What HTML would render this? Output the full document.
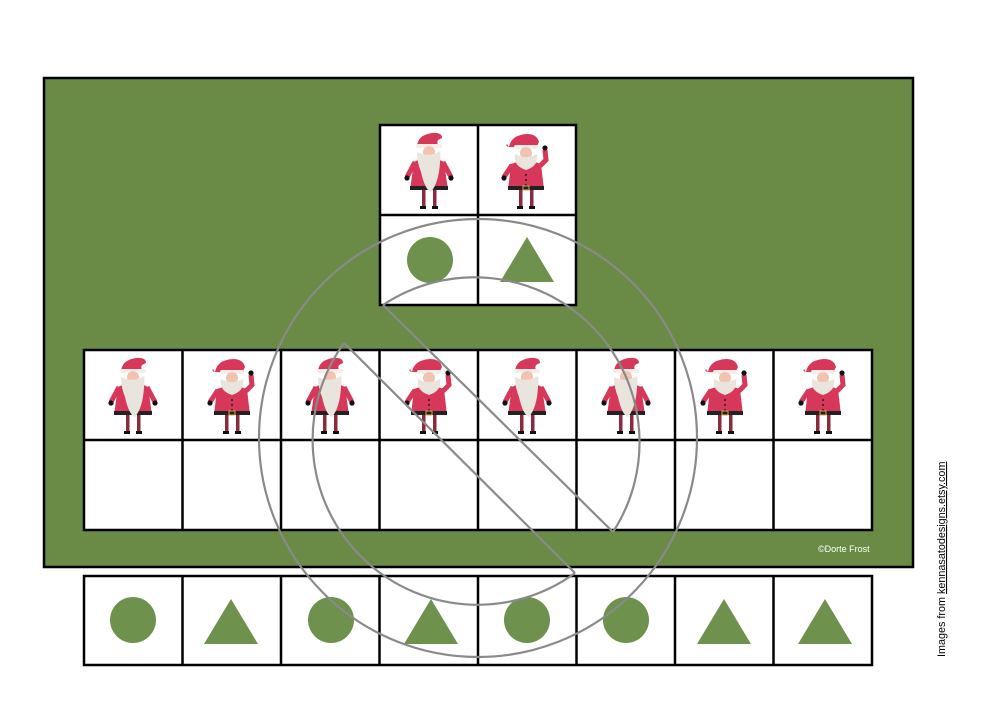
<!DOCTYPE html>
<html><head><meta charset="utf-8"><style>
html,body{margin:0;padding:0;background:#fff;}
body{width:1000px;height:707px;position:relative;overflow:hidden;font-family:"Liberation Sans",sans-serif;}
</style></head><body>
<svg width="1000" height="707" viewBox="0 0 1000 707" xmlns="http://www.w3.org/2000/svg">
<defs>
<g id="sa">
  <path d="M14,14 Q15,3 29,1 Q39,0 39,6 L35,8 Q33,12 37,14 Z" fill="#d7385a"/>
  <rect x="13" y="12" width="26" height="4" rx="2" fill="#f3eee8"/>
  <circle cx="26" cy="20" r="6" fill="#f2c3b0"/>
  <path d="M11,30 Q26,22 41,30 L45,58 L7,58 Z" fill="#d7385a"/>
  <path d="M12,30 L4,45" stroke="#d7385a" stroke-width="5"/>
  <path d="M40,30 L48,45" stroke="#d7385a" stroke-width="5"/>
  <circle cx="4" cy="46" r="2.6" fill="#111"/><circle cx="48" cy="46" r="2.6" fill="#111"/>
  <rect x="7" y="54" width="38" height="4" fill="#222"/>
  <path d="M14,20 Q14,30 18,40 Q22,58 28,60 Q36,50 37,30 Q38,21 37,19 Q26,26 14,20 Z" fill="#e9e5dc"/>
  <rect x="19" y="58" width="3.5" height="17" fill="#8a2a3c"/><rect x="30" y="58" width="3.5" height="17" fill="#8a2a3c"/>
  <rect x="17" y="74" width="6" height="3" fill="#111"/><rect x="29" y="74" width="6" height="3" fill="#111"/>
</g>
<g id="sb">
  <path d="M10,15 Q12,3 28,2 Q38,2 40,10 L37,16 Z M10,15 Q6,14 8,12" fill="#d7385a"/>
  <rect x="15" y="13" width="24" height="4" rx="2" fill="#f3eee8"/>
  <circle cx="27" cy="21" r="6" fill="#f2c3b0"/>
  <path d="M12,32 Q27,26 42,32 L45,58 L9,58 Z" fill="#d7385a"/>
  <path d="M13,33 L5,45" stroke="#d7385a" stroke-width="5"/>
  <path d="M41,34 L47,28 L46,18" stroke="#d7385a" stroke-width="5" fill="none"/>
  <circle cx="5" cy="46" r="2.6" fill="#111"/><circle cx="46" cy="16" r="2.6" fill="#111"/>
  <path d="M16,22 Q14,34 27,38 Q40,34 38,22 Q27,28 16,22 Z" fill="#e9e5dc"/>
  <circle cx="27" cy="43" r="1" fill="#222"/><circle cx="27" cy="48" r="1" fill="#222"/><circle cx="27" cy="53" r="1" fill="#222"/>
  <rect x="9" y="54" width="36" height="4" fill="#222"/>
  <rect x="24" y="54" width="6" height="4" fill="none" stroke="#d9a54a" stroke-width="1"/>
  <rect x="20" y="58" width="3.5" height="17" fill="#8a2a3c"/><rect x="31" y="58" width="3.5" height="17" fill="#8a2a3c"/>
  <rect x="18" y="74" width="6" height="3" fill="#111"/><rect x="30" y="74" width="6" height="3" fill="#111"/>
</g>
<circle id="ci" r="23" fill="#6e914e"/>
<polygon id="tr" points="0,-24 27,21 -27,21" fill="#6e914e"/>
</defs>

<rect x="44" y="78" width="869" height="489" fill="#6a8b45" stroke="#000" stroke-width="2.5"/>

<g stroke="#000" stroke-width="2.5" fill="#fff">
  <rect x="380" y="125" width="196" height="180"/>
  <line x1="478" y1="125" x2="478" y2="305"/>
  <line x1="380" y1="215" x2="576" y2="215"/>
</g>
<use href="#sa" x="403" y="132"/>
<use href="#sb" x="499" y="132"/>
<use href="#ci" x="430" y="260"/>
<use href="#tr" x="527" y="261"/>

<g stroke="#000" stroke-width="2.5" fill="#fff">
  <rect x="84" y="350" width="788" height="180"/>
  <line x1="84" y1="440" x2="872" y2="440"/>
  <line x1="182.5" y1="350" x2="182.5" y2="530"/>
  <line x1="281" y1="350" x2="281" y2="530"/>
  <line x1="379.5" y1="350" x2="379.5" y2="530"/>
  <line x1="478" y1="350" x2="478" y2="530"/>
  <line x1="576.5" y1="350" x2="576.5" y2="530"/>
  <line x1="675" y1="350" x2="675" y2="530"/>
  <line x1="773.5" y1="350" x2="773.5" y2="530"/>
</g>
<use href="#sa" x="107" y="357"/>
<use href="#sb" x="205" y="357"/>
<use href="#sa" x="304" y="357"/>
<use href="#sb" x="402" y="357"/>
<use href="#sa" x="501" y="357"/>
<use href="#sa" x="600" y="357"/>
<use href="#sb" x="698" y="357"/>
<use href="#sb" x="796" y="357"/>

<text x="818" y="552" font-size="9" fill="#fff" font-family="Liberation Sans, sans-serif">©Dorte Frost</text>

<g stroke="#000" stroke-width="2.5" fill="#fff">
  <rect x="84" y="576" width="788" height="89"/>
  <line x1="182.5" y1="576" x2="182.5" y2="665"/>
  <line x1="281" y1="576" x2="281" y2="665"/>
  <line x1="379.5" y1="576" x2="379.5" y2="665"/>
  <line x1="478" y1="576" x2="478" y2="665"/>
  <line x1="576.5" y1="576" x2="576.5" y2="665"/>
  <line x1="675" y1="576" x2="675" y2="665"/>
  <line x1="773.5" y1="576" x2="773.5" y2="665"/>
</g>
<use href="#ci" x="133" y="620"/>
<use href="#tr" x="231" y="623"/>
<use href="#ci" x="331" y="620"/>
<use href="#tr" x="431" y="623"/>
<use href="#ci" x="527" y="620"/>
<use href="#ci" x="626" y="620"/>
<use href="#tr" x="724" y="623"/>
<use href="#tr" x="825" y="623"/>

<g fill="none" stroke="#8a8a8a" stroke-width="2.2">
  <circle cx="478" cy="438" r="219"/>
  <path d="M383,305 A165,165 0 0 1 613,532"/>
  <path d="M344,343 A165,165 0 0 0 575,573"/>
  <line x1="383" y1="305" x2="613" y2="532"/>
  <line x1="344" y1="343" x2="575" y2="573"/>
</g>

<text transform="translate(945,657) rotate(-90)" font-size="10.8" fill="#000" font-family="Liberation Sans, sans-serif">Images from <tspan text-decoration="underline">kennasatodesigns.etsy.com</tspan></text>
</svg>
</body></html>
